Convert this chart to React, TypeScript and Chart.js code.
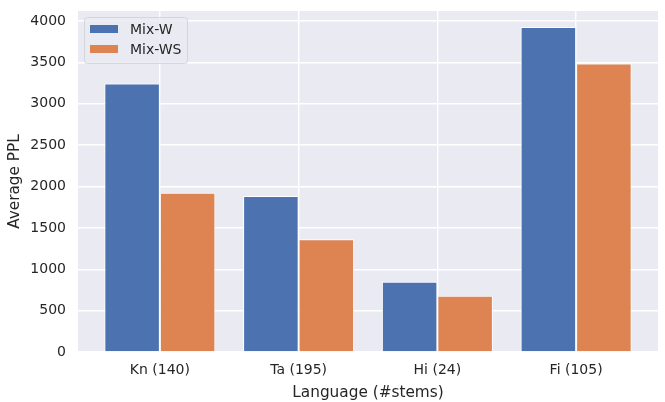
import React, { useEffect, useRef } from 'react';
import { Chart, registerables } from 'chart.js';

Chart.register(...registerables);

const languages = ['Kn (140)', 'Ta (195)', 'Hi (24)', 'Fi (105)'];
const mixW = [3245, 1885, 848, 3928];
const mixWS = [1926, 1362, 680, 3488];
const seriesNames = ['Mix-W', 'Mix-WS'];
const seriesColors = ['#4C72B0', '#DD8452'];
const yTicks = [0, 500, 1000, 1500, 2000, 2500, 3000, 3500, 4000];

const FONT = '"DejaVu Sans", sans-serif';
const TEXT = '#262626';

// seaborn-style background + legend drawn inside the plot area
const seabornPlugin = {
  id: 'seaborn',
  beforeDraw(chart: any) {
    const { ctx, chartArea: a } = chart;
    ctx.save();
    ctx.fillStyle = '#EAEAF2';
    ctx.fillRect(a.left, a.top, a.right - a.left, a.bottom - a.top);
    ctx.restore();
  },
  afterDatasetsDraw(chart: any) {
    const { ctx, chartArea: a } = chart;
    const x = a.left + 6;
    const y = a.top + 6;
    ctx.save();
    ctx.fillStyle = 'rgba(234,234,242,0.8)';
    ctx.strokeStyle = '#D5D5DC';
    ctx.lineWidth = 1;
    ctx.beginPath();
    ctx.roundRect(x + 0.5, y + 0.5, 103, 46, 3);
    ctx.fill();
    ctx.stroke();
    ctx.font = `14px ${FONT}`;
    ctx.textBaseline = 'middle';
    seriesNames.forEach((name, i) => {
      const cy = y + 12 + i * 20;
      ctx.fillStyle = seriesColors[i];
      ctx.fillRect(x + 6, cy - 4, 28, 8);
      ctx.fillStyle = TEXT;
      ctx.fillText(name, x + 46, cy + 1);
    });
    ctx.restore();
  },
};

const App: React.FC = () => {
  const canvasRef = useRef<HTMLCanvasElement>(null);
  const chartRef = useRef<Chart | null>(null);

  useEffect(() => {
    document.body.style.margin = '0';
    if (!canvasRef.current) return;
    if (chartRef.current) chartRef.current.destroy();

    chartRef.current = new Chart(canvasRef.current, {
      type: 'bar',
      data: {
        datasets: [mixW, mixWS].map((vals, i) => ({
          label: seriesNames[i],
          data: vals.map((v, j) => ({ x: j, y: v })),
          backgroundColor: seriesColors[i],
          borderColor: '#FFFFFF',
          borderWidth: 1,
          categoryPercentage: 0.8,
          barPercentage: 1.0,
        })),
      },
      options: {
        animation: false,
        responsive: true,
        maintainAspectRatio: false,
        layout: { padding: { left: 0, top: 11, right: 7, bottom: 0 } },
        plugins: {
          legend: { display: false },
          tooltip: { enabled: false },
        },
        scales: {
          x: {
            type: 'linear',
            min: -0.59,
            max: 3.59,
            offset: false,
            border: { display: false },
            grid: { color: '#FFFFFF', lineWidth: 1.4, drawTicks: false, offset: false },
            afterBuildTicks: (s: any) => {
              s.ticks = languages.map((_, i) => ({ value: i }));
            },
            ticks: {
              autoSkip: false,
              maxRotation: 0,
              padding: 10,
              color: TEXT,
              font: { family: FONT, size: 14 },
              callback: (v: any) => languages[v] ?? '',
            },
            title: {
              display: true,
              text: 'Language (#stems)',
              color: TEXT,
              font: { family: FONT, size: 15.3 },
              padding: { top: 0, bottom: 0 },
            },
            afterFit: (s: any) => {
              s.height = 50;
              s.paddingLeft = 0;
              s.paddingRight = 0;
            },
          },
          y: {
            min: 0,
            max: 4121,
            border: { display: false },
            grid: { color: '#FFFFFF', lineWidth: 1.4, drawTicks: false },
            afterBuildTicks: (s: any) => {
              s.ticks = yTicks.map((v) => ({ value: v }));
            },
            ticks: {
              padding: 12,
              color: TEXT,
              font: { family: FONT, size: 14 },
              callback: (v: any) => String(v),
            },
            title: {
              display: true,
              text: 'Average PPL',
              color: TEXT,
              font: { family: FONT, size: 15.3 },
              padding: { top: 6, bottom: 4 },
            },
            afterFit: (s: any) => {
              s.width = 78;
              s.paddingTop = 0;
              s.paddingBottom = 0;
            },
          },
        },
      },
      plugins: [seabornPlugin],
    } as any);

    return () => {
      if (chartRef.current) {
        chartRef.current.destroy();
        chartRef.current = null;
      }
    };
  }, []);

  return (
    <div style={{ position: 'fixed', left: 0, top: 0, width: 665, height: 402, background: '#fff' }}>
      <canvas ref={canvasRef} />
    </div>
  );
};

export default App;
